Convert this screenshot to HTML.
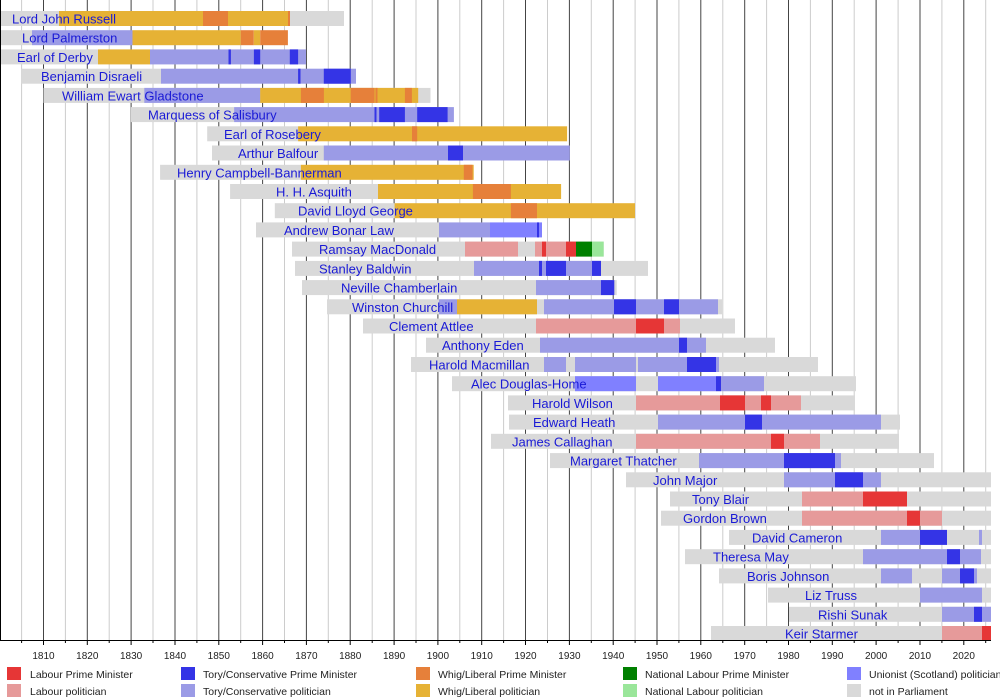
<!DOCTYPE html>
<html><head><meta charset="utf-8"><style>
html,body{margin:0;padding:0;background:#fff}
svg{display:block;font-family:"Liberation Sans",Arial,sans-serif}
.g{fill:#d9d9d9}.lp{fill:#e69a9a}.lm{fill:#e63636}.tp{fill:#9b9be6}.tm{fill:#3434e6}
.wp{fill:#e6b235}.wm{fill:#e6803a}.nm{fill:#008000}.np{fill:#9ae69a}.up{fill:#8080ff}
.n{fill:#1a1ad6;font-size:13px}
.t{font-size:10px;fill:#222;text-anchor:middle}
.lg{font-size:10.5px;fill:#222}
</style></head><body>
<svg width="1000" height="700" viewBox="0 0 1000 700">
<g id="grid">
<g stroke="#cccccc" stroke-width="1">
<line x1="21.6" y1="0" x2="21.6" y2="640"/><line x1="65.4" y1="0" x2="65.4" y2="640"/><line x1="109.2" y1="0" x2="109.2" y2="640"/><line x1="153" y1="0" x2="153" y2="640"/><line x1="196.9" y1="0" x2="196.9" y2="640"/><line x1="240.7" y1="0" x2="240.7" y2="640"/><line x1="284.5" y1="0" x2="284.5" y2="640"/><line x1="328.3" y1="0" x2="328.3" y2="640"/><line x1="372.2" y1="0" x2="372.2" y2="640"/><line x1="416" y1="0" x2="416" y2="640"/><line x1="459.8" y1="0" x2="459.8" y2="640"/><line x1="503.6" y1="0" x2="503.6" y2="640"/><line x1="547.5" y1="0" x2="547.5" y2="640"/><line x1="591.3" y1="0" x2="591.3" y2="640"/><line x1="635.1" y1="0" x2="635.1" y2="640"/><line x1="678.9" y1="0" x2="678.9" y2="640"/><line x1="722.8" y1="0" x2="722.8" y2="640"/><line x1="766.6" y1="0" x2="766.6" y2="640"/><line x1="810.4" y1="0" x2="810.4" y2="640"/><line x1="854.2" y1="0" x2="854.2" y2="640"/><line x1="898.1" y1="0" x2="898.1" y2="640"/><line x1="941.9" y1="0" x2="941.9" y2="640"/><line x1="985.7" y1="0" x2="985.7" y2="640"/>
</g>
<g stroke="#444" stroke-width="1">
<line x1="43.5" y1="0" x2="43.5" y2="640"/><line x1="87.3" y1="0" x2="87.3" y2="640"/><line x1="131.1" y1="0" x2="131.1" y2="640"/><line x1="175" y1="0" x2="175" y2="640"/><line x1="218.8" y1="0" x2="218.8" y2="640"/><line x1="262.6" y1="0" x2="262.6" y2="640"/><line x1="306.4" y1="0" x2="306.4" y2="640"/><line x1="350.2" y1="0" x2="350.2" y2="640"/><line x1="394.1" y1="0" x2="394.1" y2="640"/><line x1="437.9" y1="0" x2="437.9" y2="640"/><line x1="481.7" y1="0" x2="481.7" y2="640"/><line x1="525.5" y1="0" x2="525.5" y2="640"/><line x1="569.4" y1="0" x2="569.4" y2="640"/><line x1="613.2" y1="0" x2="613.2" y2="640"/><line x1="657" y1="0" x2="657" y2="640"/><line x1="700.8" y1="0" x2="700.8" y2="640"/><line x1="744.7" y1="0" x2="744.7" y2="640"/><line x1="788.5" y1="0" x2="788.5" y2="640"/><line x1="832.3" y1="0" x2="832.3" y2="640"/><line x1="876.1" y1="0" x2="876.1" y2="640"/><line x1="920" y1="0" x2="920" y2="640"/><line x1="963.8" y1="0" x2="963.8" y2="640"/>
</g>
</g>

<g transform="translate(0,11)"><rect class="g" x="0" y="0" width="344" height="15"/><rect class="wp" x="59" y="0" width="144" height="15"/><rect class="wm" x="203" y="0" width="25" height="15"/><rect class="wp" x="228" y="0" width="60" height="15"/><rect class="wm" x="288" y="0" width="2" height="15"/><text class="n" x="12" y="12.5">Lord John Russell</text></g>
<g transform="translate(0,30.2)"><rect class="g" x="0" y="0" width="32" height="15"/><rect class="tp" x="32" y="0" width="100.5" height="15"/><rect class="wp" x="132.5" y="0" width="108.3" height="15"/><rect class="wm" x="240.8" y="0" width="13" height="15"/><rect class="wp" x="253.8" y="0" width="6.4" height="15"/><rect class="wm" x="260.2" y="0" width="27.7" height="15"/><text class="n" x="22" y="12.5">Lord Palmerston</text></g>
<g transform="translate(0,49.4)"><rect class="g" x="0" y="0" width="98" height="15"/><rect class="wp" x="98" y="0" width="52" height="15"/><rect class="tp" x="150" y="0" width="156" height="15"/><rect class="tm" x="228.5" y="0" width="2.4" height="15"/><rect class="tm" x="253.9" y="0" width="6.3" height="15"/><rect class="tm" x="289.8" y="0" width="8.3" height="15"/><text class="n" x="17" y="12.5">Earl of Derby</text></g>
<g transform="translate(0,68.7)"><rect class="g" x="21.4" y="0" width="140" height="15"/><rect class="tp" x="161" y="0" width="195" height="15"/><rect class="tm" x="298.1" y="0" width="2.4" height="15"/><rect class="tm" x="323.8" y="0" width="27" height="15"/><text class="n" x="41" y="12.5">Benjamin Disraeli</text></g>
<g transform="translate(0,87.9)"><rect class="g" x="43.5" y="0" width="387" height="15"/><rect class="tp" x="144.3" y="0" width="116" height="15"/><rect class="wp" x="260.2" y="0" width="158" height="15"/><rect class="wm" x="300.9" y="0" width="23" height="15"/><rect class="wm" x="350.7" y="0" width="23.8" height="15"/><rect class="wm" x="375.5" y="0" width="2" height="15"/><rect class="wm" x="404.9" y="0" width="7" height="15"/><text class="n" x="62" y="12.5">William Ewart Gladstone</text></g>
<g transform="translate(0,107.1)"><rect class="g" x="130.9" y="0" width="103.2" height="15"/><rect class="tp" x="234.1" y="0" width="219.8" height="15"/><rect class="tm" x="374.5" y="0" width="2" height="15"/><rect class="tm" x="379.2" y="0" width="25.7" height="15"/><rect class="tm" x="417.2" y="0" width="30.4" height="15"/><text class="n" x="148" y="12.5">Marquess of Salisbury</text></g>
<g transform="translate(0,126.3)"><rect class="g" x="207.2" y="0" width="91" height="15"/><rect class="wp" x="298.1" y="0" width="269" height="15"/><rect class="wm" x="412" y="0" width="5.2" height="15"/><text class="n" x="224" y="12.5">Earl of Rosebery</text></g>
<g transform="translate(0,145.5)"><rect class="g" x="212" y="0" width="112" height="15"/><rect class="tp" x="323.8" y="0" width="246" height="15"/><rect class="tm" x="448" y="0" width="15" height="15"/><text class="n" x="238" y="12.5">Arthur Balfour</text></g>
<g transform="translate(0,164.8)"><rect class="g" x="160.1" y="0" width="141" height="15"/><rect class="wp" x="300.9" y="0" width="172.8" height="15"/><rect class="wm" x="463.8" y="0" width="8.7" height="15"/><text class="n" x="177" y="12.5">Henry Campbell-Bannerman</text></g>
<g transform="translate(0,184)"><rect class="g" x="230.1" y="0" width="148" height="15"/><rect class="wp" x="378" y="0" width="183.1" height="15"/><rect class="wm" x="472.9" y="0" width="38" height="15"/><text class="n" x="276" y="12.5">H. H. Asquith</text></g>
<g transform="translate(0,203.2)"><rect class="g" x="274.8" y="0" width="120" height="15"/><rect class="wp" x="394.6" y="0" width="240.4" height="15"/><rect class="wm" x="510.9" y="0" width="26.1" height="15"/><text class="n" x="298" y="12.5">David Lloyd George</text></g>
<g transform="translate(0,222.4)"><rect class="g" x="256" y="0" width="183" height="15"/><rect class="tp" x="439" y="0" width="51" height="15"/><rect class="up" x="490" y="0" width="52" height="15"/><rect class="tm" x="537" y="0" width="2" height="15"/><text class="n" x="284" y="12.5">Andrew Bonar Law</text></g>
<g transform="translate(0,241.6)"><rect class="g" x="292" y="0" width="311.7" height="15"/><rect class="lp" x="465" y="0" width="53" height="15"/><rect class="lp" x="535" y="0" width="41" height="15"/><rect class="lm" x="542" y="0" width="4" height="15"/><rect class="lm" x="566" y="0" width="10" height="15"/><rect class="nm" x="576" y="0" width="16" height="15"/><rect class="np" x="592" y="0" width="11.7" height="15"/><text class="n" x="319" y="12.5">Ramsay MacDonald</text></g>
<g transform="translate(0,260.9)"><rect class="g" x="295" y="0" width="353" height="15"/><rect class="tp" x="474" y="0" width="127" height="15"/><rect class="tm" x="539" y="0" width="3" height="15"/><rect class="tm" x="546" y="0" width="20" height="15"/><rect class="tm" x="592" y="0" width="9" height="15"/><text class="n" x="319" y="12.5">Stanley Baldwin</text></g>
<g transform="translate(0,280.1)"><rect class="g" x="302" y="0" width="314.7" height="15"/><rect class="tp" x="536" y="0" width="65" height="15"/><rect class="tm" x="601" y="0" width="13.3" height="15"/><text class="n" x="341" y="12.5">Neville Chamberlain</text></g>
<g transform="translate(0,299.3)"><rect class="g" x="327" y="0" width="395" height="15"/><rect class="tp" x="439" y="0" width="18" height="15"/><rect class="wp" x="457" y="0" width="80" height="15"/><rect class="tp" x="544" y="0" width="174" height="15"/><rect class="tm" x="614" y="0" width="22" height="15"/><rect class="tm" x="664" y="0" width="15" height="15"/><text class="n" x="352" y="12.5">Winston Churchill</text></g>
<g transform="translate(0,318.5)"><rect class="g" x="363" y="0" width="372" height="15"/><rect class="lp" x="536" y="0" width="144" height="15"/><rect class="lm" x="636" y="0" width="28" height="15"/><text class="n" x="389" y="12.5">Clement Attlee</text></g>
<g transform="translate(0,337.7)"><rect class="g" x="426" y="0" width="349" height="15"/><rect class="tp" x="540" y="0" width="166" height="15"/><rect class="tm" x="679" y="0" width="8" height="15"/><text class="n" x="442" y="12.5">Anthony Eden</text></g>
<g transform="translate(0,357)"><rect class="g" x="411" y="0" width="407" height="15"/><rect class="tp" x="544" y="0" width="22" height="15"/><rect class="tp" x="575" y="0" width="61" height="15"/><rect class="tp" x="638" y="0" width="81" height="15"/><rect class="tm" x="687" y="0" width="29" height="15"/><text class="n" x="429" y="12.5">Harold Macmillan</text></g>
<g transform="translate(0,376.2)"><rect class="g" x="452" y="0" width="404" height="15"/><rect class="up" x="575" y="0" width="61" height="15"/><rect class="up" x="658" y="0" width="58" height="15"/><rect class="tm" x="716" y="0" width="5" height="15"/><rect class="tp" x="721" y="0" width="43" height="15"/><text class="n" x="471" y="12.5">Alec Douglas-Home</text></g>
<g transform="translate(0,395.4)"><rect class="g" x="508" y="0" width="347" height="15"/><rect class="lp" x="636" y="0" width="165" height="15"/><rect class="lm" x="720" y="0" width="25" height="15"/><rect class="lm" x="761" y="0" width="10" height="15"/><text class="n" x="532" y="12.5">Harold Wilson</text></g>
<g transform="translate(0,414.6)"><rect class="g" x="509" y="0" width="391" height="15"/><rect class="tp" x="658" y="0" width="223" height="15"/><rect class="tm" x="745" y="0" width="17" height="15"/><text class="n" x="533" y="12.5">Edward Heath</text></g>
<g transform="translate(0,433.8)"><rect class="g" x="491" y="0" width="408" height="15"/><rect class="lp" x="636" y="0" width="184" height="15"/><rect class="lm" x="771" y="0" width="13" height="15"/><text class="n" x="512" y="12.5">James Callaghan</text></g>
<g transform="translate(0,453.1)"><rect class="g" x="550" y="0" width="384" height="15"/><rect class="tp" x="699" y="0" width="142" height="15"/><rect class="tm" x="784" y="0" width="51" height="15"/><text class="n" x="570" y="12.5">Margaret Thatcher</text></g>
<g transform="translate(0,472.3)"><rect class="g" x="626" y="0" width="365" height="15"/><rect class="tp" x="784" y="0" width="97" height="15"/><rect class="tm" x="835" y="0" width="28" height="15"/><text class="n" x="653" y="12.5">John Major</text></g>
<g transform="translate(0,491.5)"><rect class="g" x="670" y="0" width="321" height="15"/><rect class="lp" x="802" y="0" width="61" height="15"/><rect class="lm" x="863" y="0" width="44" height="15"/><text class="n" x="692" y="12.5">Tony Blair</text></g>
<g transform="translate(0,510.7)"><rect class="g" x="661" y="0" width="330" height="15"/><rect class="lp" x="802" y="0" width="140" height="15"/><rect class="lm" x="907" y="0" width="13" height="15"/><text class="n" x="683" y="12.5">Gordon Brown</text></g>
<g transform="translate(0,529.9)"><rect class="g" x="729" y="0" width="262" height="15"/><rect class="tp" x="881" y="0" width="39" height="15"/><rect class="tm" x="920" y="0" width="27" height="15"/><rect class="tp" x="979" y="0" width="3" height="15"/><text class="n" x="752" y="12.5">David Cameron</text></g>
<g transform="translate(0,549.2)"><rect class="g" x="685" y="0" width="306" height="15"/><rect class="tp" x="863" y="0" width="118" height="15"/><rect class="tm" x="947" y="0" width="13" height="15"/><text class="n" x="713" y="12.5">Theresa May</text></g>
<g transform="translate(0,568.4)"><rect class="g" x="719" y="0" width="272" height="15"/><rect class="tp" x="881" y="0" width="31" height="15"/><rect class="tp" x="942" y="0" width="35" height="15"/><rect class="tm" x="960" y="0" width="14" height="15"/><text class="n" x="747" y="12.5">Boris Johnson</text></g>
<g transform="translate(0,587.6)"><rect class="g" x="768" y="0" width="223" height="15"/><rect class="tp" x="920" y="0" width="62" height="15"/><text class="n" x="805" y="12.5">Liz Truss</text></g>
<g transform="translate(0,606.8)"><rect class="g" x="789" y="0" width="202" height="15"/><rect class="tp" x="942" y="0" width="49" height="15"/><rect class="tm" x="974" y="0" width="8" height="15"/><text class="n" x="818" y="12.5">Rishi Sunak</text></g>
<g transform="translate(0,626)"><rect class="g" x="711" y="0" width="280" height="15"/><rect class="lp" x="942" y="0" width="40" height="15"/><rect class="lm" x="982" y="0" width="9" height="15"/><text class="n" x="785" y="12.5">Keir Starmer</text></g>

<line x1="0.5" y1="0" x2="0.5" y2="641" stroke="#000"/>
<line x1="0" y1="640.5" x2="991" y2="640.5" stroke="#000"/>
<g stroke="#000">
<line x1="21.6" y1="640" x2="21.6" y2="643"/><line x1="65.4" y1="640" x2="65.4" y2="643"/><line x1="109.2" y1="640" x2="109.2" y2="643"/><line x1="153" y1="640" x2="153" y2="643"/><line x1="196.9" y1="640" x2="196.9" y2="643"/><line x1="240.7" y1="640" x2="240.7" y2="643"/><line x1="284.5" y1="640" x2="284.5" y2="643"/><line x1="328.3" y1="640" x2="328.3" y2="643"/><line x1="372.2" y1="640" x2="372.2" y2="643"/><line x1="416" y1="640" x2="416" y2="643"/><line x1="459.8" y1="640" x2="459.8" y2="643"/><line x1="503.6" y1="640" x2="503.6" y2="643"/><line x1="547.5" y1="640" x2="547.5" y2="643"/><line x1="591.3" y1="640" x2="591.3" y2="643"/><line x1="635.1" y1="640" x2="635.1" y2="643"/><line x1="678.9" y1="640" x2="678.9" y2="643"/><line x1="722.8" y1="640" x2="722.8" y2="643"/><line x1="766.6" y1="640" x2="766.6" y2="643"/><line x1="810.4" y1="640" x2="810.4" y2="643"/><line x1="854.2" y1="640" x2="854.2" y2="643"/><line x1="898.1" y1="640" x2="898.1" y2="643"/><line x1="941.9" y1="640" x2="941.9" y2="643"/><line x1="985.7" y1="640" x2="985.7" y2="643"/>
<line x1="43.5" y1="640" x2="43.5" y2="645"/><line x1="87.3" y1="640" x2="87.3" y2="645"/><line x1="131.1" y1="640" x2="131.1" y2="645"/><line x1="175" y1="640" x2="175" y2="645"/><line x1="218.8" y1="640" x2="218.8" y2="645"/><line x1="262.6" y1="640" x2="262.6" y2="645"/><line x1="306.4" y1="640" x2="306.4" y2="645"/><line x1="350.2" y1="640" x2="350.2" y2="645"/><line x1="394.1" y1="640" x2="394.1" y2="645"/><line x1="437.9" y1="640" x2="437.9" y2="645"/><line x1="481.7" y1="640" x2="481.7" y2="645"/><line x1="525.5" y1="640" x2="525.5" y2="645"/><line x1="569.4" y1="640" x2="569.4" y2="645"/><line x1="613.2" y1="640" x2="613.2" y2="645"/><line x1="657" y1="640" x2="657" y2="645"/><line x1="700.8" y1="640" x2="700.8" y2="645"/><line x1="744.7" y1="640" x2="744.7" y2="645"/><line x1="788.5" y1="640" x2="788.5" y2="645"/><line x1="832.3" y1="640" x2="832.3" y2="645"/><line x1="876.1" y1="640" x2="876.1" y2="645"/><line x1="920" y1="640" x2="920" y2="645"/><line x1="963.8" y1="640" x2="963.8" y2="645"/>
</g>
<g class="t">
<text x="43.5" y="659">1810</text><text x="87.3" y="659">1820</text><text x="131.1" y="659">1830</text><text x="175" y="659">1840</text><text x="218.8" y="659">1850</text><text x="262.6" y="659">1860</text><text x="306.4" y="659">1870</text><text x="350.2" y="659">1880</text><text x="394.1" y="659">1890</text><text x="437.9" y="659">1900</text><text x="481.7" y="659">1910</text><text x="525.5" y="659">1920</text><text x="569.4" y="659">1930</text><text x="613.2" y="659">1940</text><text x="657" y="659">1950</text><text x="700.8" y="659">1960</text><text x="744.7" y="659">1970</text><text x="788.5" y="659">1980</text><text x="832.3" y="659">1990</text><text x="876.1" y="659">2000</text><text x="920" y="659">2010</text><text x="963.8" y="659">2020</text>
</g>

<g>
<rect class="lm" x="7" y="667" width="14" height="13"/><text class="lg" x="30" y="678">Labour Prime Minister</text>
<rect class="lp" x="7" y="684" width="14" height="13"/><text class="lg" x="30" y="695">Labour politician</text>
<rect class="tm" x="181" y="667" width="14" height="13"/><text class="lg" x="203" y="678">Tory/Conservative Prime Minister</text>
<rect class="tp" x="181" y="684" width="14" height="13"/><text class="lg" x="203" y="695">Tory/Conservative politician</text>
<rect class="wm" x="416" y="667" width="14" height="13"/><text class="lg" x="438" y="678">Whig/Liberal Prime Minister</text>
<rect class="wp" x="416" y="684" width="14" height="13"/><text class="lg" x="438" y="695">Whig/Liberal politician</text>
<rect class="nm" x="623" y="667" width="14" height="13"/><text class="lg" x="645" y="678">National Labour Prime Minister</text>
<rect class="np" x="623" y="684" width="14" height="13"/><text class="lg" x="645" y="695">National Labour politician</text>
<rect class="up" x="847" y="667" width="14" height="13"/><text class="lg" x="869" y="678">Unionist (Scotland) politician</text>
<rect class="g" x="847" y="684" width="14" height="13"/><text class="lg" x="869" y="695">not in Parliament</text>
</g>
</svg>
</body></html>
